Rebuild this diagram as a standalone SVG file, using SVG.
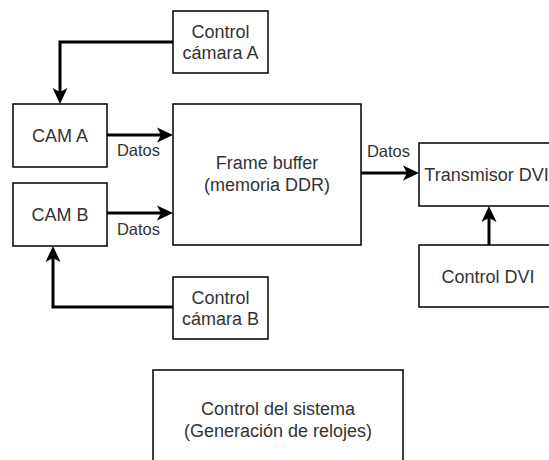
<svg xmlns="http://www.w3.org/2000/svg" width="549" height="460" viewBox="0 0 549 460">
  <style>
    .box { fill: #ffffff; stroke: #000000; stroke-width: 1.5; }
    .lbl { font-family: "Liberation Sans", Arial, Helvetica, sans-serif; font-size: 18px; fill: #333333; text-anchor: middle; }
    .edge-lbl { font-family: "Liberation Sans", Arial, Helvetica, sans-serif; font-size: 16.5px; fill: #333333; text-anchor: middle; }
    .wire { fill: none; stroke: #000000; stroke-width: 3; marker-end: url(#arrow); }
  </style>
  <defs>
    <marker id="arrow" markerUnits="userSpaceOnUse" viewBox="0 -8 16 16" markerWidth="16" markerHeight="16" refX="4" refY="0" orient="auto">
      <path d="M16,0 L0,-7.5 L4,0 L0,7.5 Z" fill="#000000"/>
    </marker>
  </defs>
  <rect width="549" height="460" fill="#ffffff"/>

  <g id="connectors">
    <path class="wire" d="M173,42 H60 V92"/>
    <path class="wire" d="M107,135 H161"/>
    <path class="wire" d="M107,213 H161"/>
    <path class="wire" d="M173,307 H53 V258"/>
    <path class="wire" d="M361,173 H407"/>
    <path class="wire" d="M489,245 V218"/>
    <text class="edge-lbl" x="138.5" y="156">Datos</text>
    <text class="edge-lbl" x="138.5" y="235">Datos</text>
    <text class="edge-lbl" x="388.5" y="157">Datos</text>
  </g>

  <g id="ctrl-cam-a">
    <rect class="box" x="173" y="11" width="95" height="62"/>
    <text class="lbl" x="220.5" y="37.5">Control</text>
    <text class="lbl" x="220.5" y="59">cámara A</text>
  </g>

  <g id="cam-a">
    <rect class="box" x="13" y="104" width="94" height="63"/>
    <text class="lbl" x="60" y="142">CAM A</text>
  </g>

  <g id="cam-b">
    <rect class="box" x="13" y="183" width="94" height="63"/>
    <text class="lbl" x="60" y="221">CAM B</text>
  </g>

  <g id="ctrl-cam-b">
    <rect class="box" x="173" y="277" width="95" height="62"/>
    <text class="lbl" x="220.5" y="303.5">Control</text>
    <text class="lbl" x="220.5" y="325">cámara B</text>
  </g>

  <g id="frame-buffer">
    <rect class="box" x="173" y="104" width="188" height="141"/>
    <text class="lbl" x="267" y="169">Frame buffer</text>
    <text class="lbl" x="267" y="190.5">(memoria DDR)</text>
  </g>

  <g id="tx-dvi">
    <rect class="box" x="419" y="143" width="140" height="63"/>
    <text class="lbl" x="486.5" y="181">Transmisor DVI</text>
  </g>

  <g id="ctrl-dvi">
    <rect class="box" x="419" y="245" width="140" height="62"/>
    <text class="lbl" x="488" y="282.5">Control DVI</text>
  </g>

  <g id="sys-ctrl">
    <rect class="box" x="153" y="370" width="250" height="120"/>
    <text class="lbl" x="278" y="415">Control del sistema</text>
    <text class="lbl" x="278" y="437">(Generación de relojes)</text>
  </g>
</svg>
